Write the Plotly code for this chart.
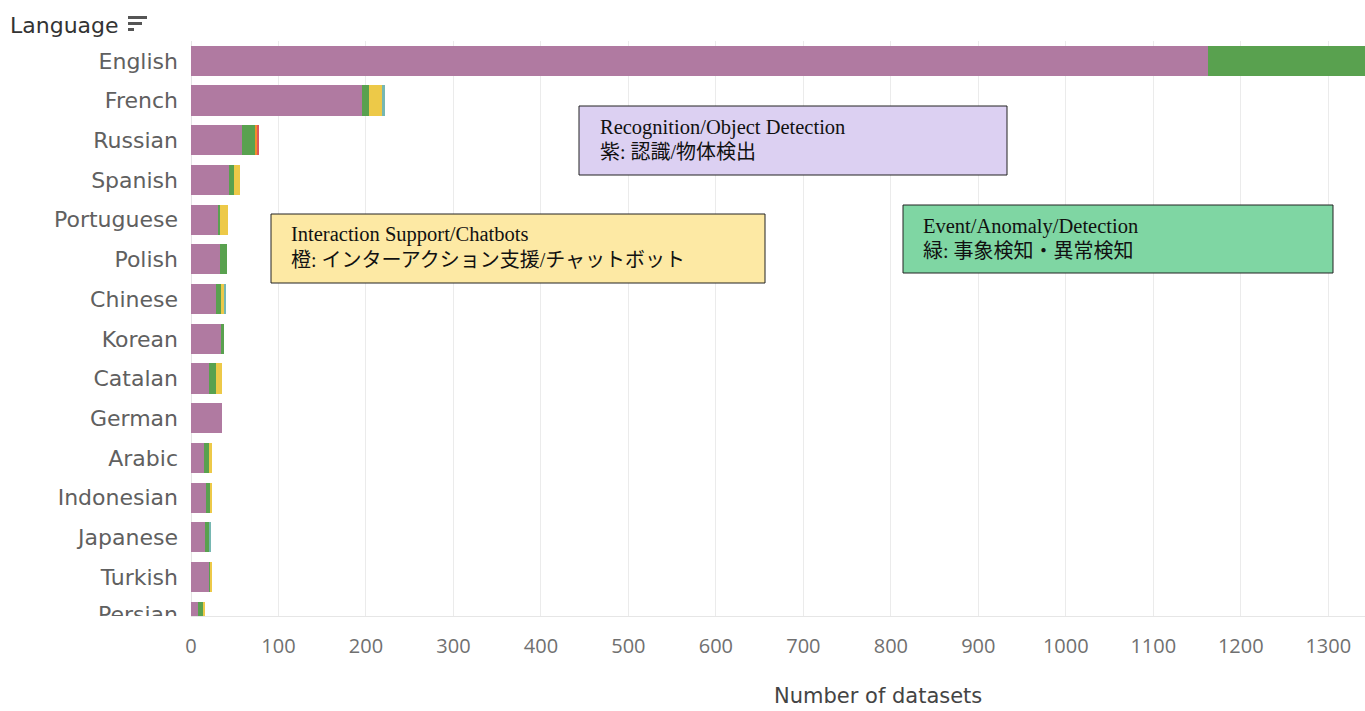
import plotly.graph_objects as go

# ---------------- data ----------------
languages = ["English", "French", "Russian", "Spanish", "Portuguese", "Polish", "Chinese",
             "Korean", "Catalan", "German", "Arabic", "Indonesian", "Japanese", "Turkish", "Persian"]
recognition = [1162, 196, 58, 43, 32, 33, 29, 34, 21, 36, 15, 17, 16, 21, 8]
event_detection = [220, 7, 16, 6, 1, 8, 5, 4, 8, 0, 5, 5, 5, 1, 6]
interaction = [0, 15, 0, 7, 9, 0, 4, 0, 7, 0, 4, 1, 0, 2, 1]
other_teal = [0, 4, 0, 0, 0, 0, 1, 0, 0, 0, 0, 0, 1, 0, 0]
other_orange = [0, 0, 2, 0, 0, 0, 0, 0, 0, 0, 0, 0, 0, 0, 0]
other_red = [0, 0, 2, 0, 0, 0, 0, 0, 0, 0, 0, 0, 0, 0, 0]
x_ticks = [0, 100, 200, 300, 400, 500, 600, 700, 800, 900, 1000, 1100, 1200, 1300]

series = [
    ("Recognition/Object Detection", recognition, "#b07aa1"),
    ("Event/Anomaly/Detection", event_detection, "#59a14f"),
    ("Interaction Support/Chatbots", interaction, "#edc948"),
    ("Other", other_teal, "#76b7b2"),
    ("Other 2", other_orange, "#f28e2b"),
    ("Other 3", other_red, "#e15759"),
]

# ---------------- layout helpers (pixel -> paper) ----------------
W, H = 1365, 711
PLOT_L, PLOT_T, PLOT_B = 191, 41, 616


def px(x):
    return x / W


def py(y):
    return (PLOT_B - y) / (PLOT_B - PLOT_T)


fig = go.Figure()
for name, vals, col in series:
    fig.add_trace(go.Bar(
        y=languages, x=vals, orientation="h", name=name,
        marker=dict(color=col, line=dict(width=0)), width=0.76,
        showlegend=False,
    ))

LABEL_FONT = dict(family="DejaVu Sans", size=22, color="#606060")

# partially visible label of the last (clipped) row, drawn in a helper subplot
fig.add_trace(go.Scatter(
    x=[178], y=["Persian"], mode="text", text=["Persian"], textposition="middle left",
    textfont=LABEL_FONT,
    cliponaxis=True, xaxis="x2", yaxis="y2", hoverinfo="skip", showlegend=False,
))

yrange = [13.98, -0.5]

fig.update_layout(
    template="none",
    width=W, height=H,
    margin=dict(l=0, r=0, t=PLOT_T, b=H - PLOT_B, pad=0),
    paper_bgcolor="white", plot_bgcolor="white",
    barmode="stack", bargap=0.24,
    xaxis=dict(
        domain=[px(PLOT_L), 1], range=[0, 1342], tickvals=x_ticks,
        showgrid=True, gridcolor="#ebebeb", gridwidth=1,
        zeroline=True, zerolinecolor="#e4e4e4", zerolinewidth=1,
        showline=True, linecolor="#e6e6e6", linewidth=1,
        ticks="", tickfont=dict(family="Open Sans", size=20, color="#707070"),
        ticklabelstandoff=12, automargin=False,
    ),
    yaxis=dict(
        type="category", categoryarray=languages, categoryorder="array",
        range=yrange, showgrid=False, zeroline=False, showline=False,
        ticks="", tickfont=LABEL_FONT, ticklabelstandoff=12, automargin=False,
    ),
    xaxis2=dict(domain=[0, px(PLOT_L)], range=[0, PLOT_L], visible=False, anchor="y2"),
    yaxis2=dict(domain=[0, 1], type="category", categoryarray=languages,
                categoryorder="array", range=yrange, visible=False, anchor="x2"),
)

# titles
fig.add_annotation(text="Language", xref="paper", yref="paper", x=px(8), y=py(25),
                   xanchor="left", yanchor="middle", showarrow=False,
                   font=dict(family="DejaVu Sans", size=22, color="#333333"))
# sort icon
for y0, x1 in [(16, 147), (22, 142), (28, 134)]:
    fig.add_shape(type="rect", xref="paper", yref="paper",
                  x0=px(128), x1=px(x1), y0=py(y0), y1=py(y0 + 3),
                  fillcolor="#555555", line=dict(width=0))

fig.add_annotation(text="Number of datasets", xref="paper", yref="paper",
                   x=px(878), y=py(696), xanchor="center", yanchor="middle", showarrow=False,
                   font=dict(family="DejaVu Sans", size=21, color="#444444"))

# note boxes
boxes = [
    ((579, 106, 1007, 175), "#dcd0f2", "Recognition/Object Detection", "紫: 認識/物体検出", 598, 127),
    ((271, 214, 765, 283), "#fde9a4", "Interaction Support/Chatbots", "橙: インターアクション支援/チャットボット", 289, 235),
    ((903, 205, 1333, 273), "#7fd6a3", "Event/Anomaly/Detection", "緑: 事象検知・異常検知", 921, 226),
]
EN_FONT = dict(family="Liberation Serif", size=20.5, color="#111111")
JA_FONT = dict(family="Liberation Serif, Noto Sans CJK JP", size=20, color="#111111")
for (x0, y0, x1, y1), fill, l1, l2, tx, ty in boxes:
    fig.add_shape(type="rect", xref="paper", yref="paper",
                  x0=px(x0), x1=px(x1), y0=py(y0), y1=py(y1),
                  fillcolor=fill, line=dict(color="#222222", width=1), layer="above")
    fig.add_annotation(text=l1, xref="paper", yref="paper", x=px(tx), y=py(ty),
                       xanchor="left", yanchor="middle", showarrow=False, font=EN_FONT)
    fig.add_annotation(text=l2, xref="paper", yref="paper", x=px(tx), y=py(ty + 25),
                       xanchor="left", yanchor="middle", showarrow=False, font=JA_FONT)

fig.write_html(
    "out.html",
    config={"displayModeBar": False},
    post_script="document.body.style.margin='0';document.body.style.overflow='hidden';",
)
